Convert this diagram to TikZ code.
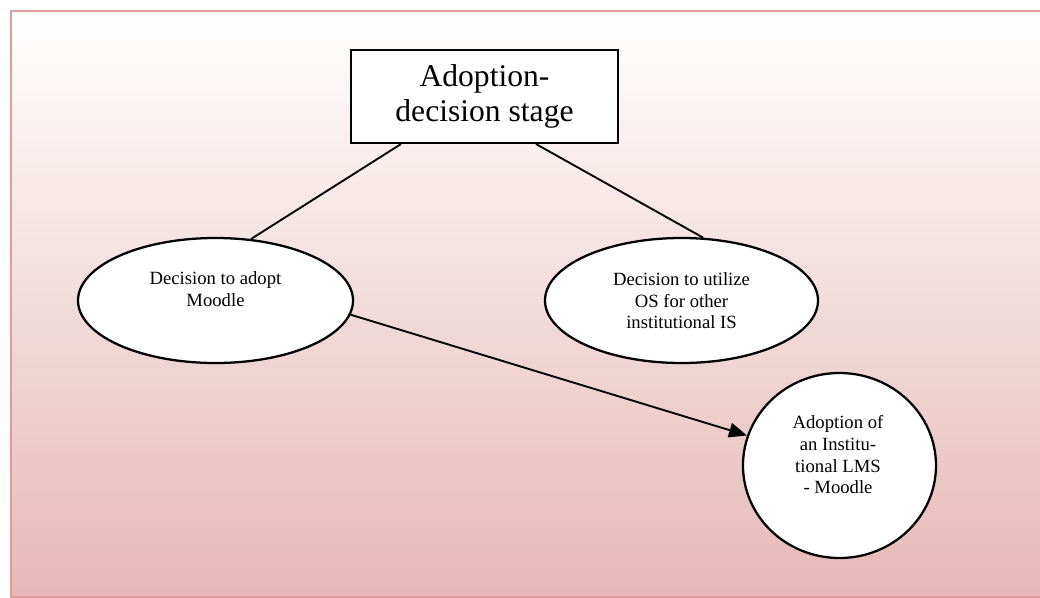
\documentclass[tikz,border=0pt]{standalone}
\usepackage{fontspec}
\setmainfont{Liberation Serif}
\usetikzlibrary{shapes.geometric,arrows.meta}

\definecolor{framepink}{RGB}{224,156,155}
\definecolor{fillpink}{RGB}{230,184,183}

\tikzset{
  stagebox/.style={draw, line width=1.6pt, fill=white, inner sep=0pt,
    minimum width=200.25pt, minimum height=69.75pt, align=center,
    font=\fontsize{23.7}{26.5}\selectfont},
  oval/.style={draw, ellipse, line width=1.7pt, fill=white, inner sep=0pt},
  ovaltext/.style={align=center, inner sep=0pt, anchor=north,
    font=\fontsize{14}{16.3}\selectfont},
  link/.style={line width=1.4pt},
}

\begin{document}
\begin{tikzpicture}[x=0.75pt, y=-0.75pt]
    % Page and frame
    \useasboundingbox (0,0) rectangle (1040,597);
    \shade[top color=white, bottom color=fillpink] (11,11) rectangle (1080,597);
    \draw[framepink, line width=1.5pt] (1080,11) -- (11,11) -- (11,596.5) -- (1080,596.5);

    % Stage
    \node[stagebox] (stage) at (484.5,96.5) {Adoption-\\decision stage};

    % Decisions
    \node[oval, minimum width=206.25pt, minimum height=93.75pt] (adopt) at (215.5,300.5) {};
    \node[ovaltext] (adopttxt) at (215.5,271.3) {Decision to adopt\\Moodle};
    \node[oval, minimum width=204.75pt, minimum height=93.75pt] (utilize) at (681.5,300.5) {};
    \node[ovaltext] (utilizetxt) at (681.5,272.3) {Decision to utilize\\OS for other\\institutional IS};

    % Outcome
    \node[oval, minimum width=144.75pt, minimum height=138.75pt] (lms) at (839.5,465.5) {};
    \node[ovaltext] (lmstxt) at (838,415.3) {Adoption of\\an Institu-\\tional LMS\\- Moodle};

    % Links
    \draw[link] ([xshift=38.25pt]stage.south west) -- (adopt.60);
    \draw[link] ([xshift=-62.25pt]stage.south east) -- (utilize.71);
    \draw[link, -{Triangle[length=13.5pt, width=11pt]}] (adopt.-6) -- (lms.162);
\end{tikzpicture}
\end{document}
